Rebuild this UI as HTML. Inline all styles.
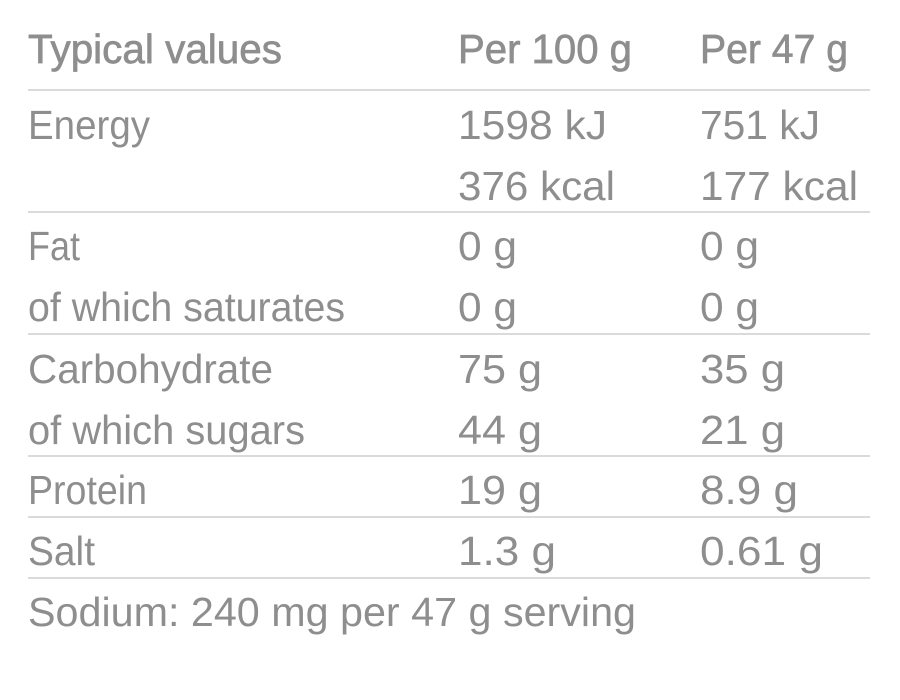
<!DOCTYPE html>
<html><head><meta charset="utf-8"><style>
html,body{margin:0;padding:0;background:#fff;width:900px;height:700px;overflow:hidden}
text{font-family:"Liberation Sans",sans-serif;font-size:41px;fill:#8e8e8e}
.h{stroke:#8e8e8e;stroke-width:0.7}
</style></head><body>
<svg width="900" height="700" xmlns="http://www.w3.org/2000/svg">
<g fill="#dadada">
<rect x="28" y="89" width="842" height="2"/>
<rect x="28" y="211" width="842" height="2"/>
<rect x="28" y="333" width="842" height="2"/>
<rect x="28" y="455" width="842" height="2"/>
<rect x="28" y="516" width="842" height="2"/>
<rect x="28" y="577" width="842" height="2"/>
</g>
<text class="h" x="28" y="63" textLength="254" lengthAdjust="spacingAndGlyphs">Typical values</text>
<text class="h" x="458" y="63" textLength="174" lengthAdjust="spacingAndGlyphs">Per 100 g</text>
<text class="h" x="700" y="63" textLength="148" lengthAdjust="spacingAndGlyphs">Per 47 g</text>

<text x="28" y="139" textLength="122" lengthAdjust="spacingAndGlyphs">Energy</text>
<text x="458" y="139" textLength="149" lengthAdjust="spacingAndGlyphs">1598 kJ</text>
<text x="700" y="139" textLength="120" lengthAdjust="spacingAndGlyphs">751 kJ</text>
<text x="458" y="200" textLength="157" lengthAdjust="spacingAndGlyphs">376 kcal</text>
<text x="700" y="200" textLength="158" lengthAdjust="spacingAndGlyphs">177 kcal</text>

<text x="28" y="260" textLength="52" lengthAdjust="spacingAndGlyphs">Fat</text>
<text x="458" y="260" textLength="59" lengthAdjust="spacingAndGlyphs">0 g</text>
<text x="700" y="260" textLength="59" lengthAdjust="spacingAndGlyphs">0 g</text>
<text x="28" y="321" textLength="317" lengthAdjust="spacingAndGlyphs">of which saturates</text>
<text x="458" y="321" textLength="59" lengthAdjust="spacingAndGlyphs">0 g</text>
<text x="700" y="321" textLength="59" lengthAdjust="spacingAndGlyphs">0 g</text>

<text x="28" y="383" textLength="245" lengthAdjust="spacingAndGlyphs">Carbohydrate</text>
<text x="458" y="383" textLength="84" lengthAdjust="spacingAndGlyphs">75 g</text>
<text x="700" y="383" textLength="85" lengthAdjust="spacingAndGlyphs">35 g</text>
<text x="28" y="444" textLength="277" lengthAdjust="spacingAndGlyphs">of which sugars</text>
<text x="458" y="444" textLength="84" lengthAdjust="spacingAndGlyphs">44 g</text>
<text x="700" y="444" textLength="85" lengthAdjust="spacingAndGlyphs">21 g</text>

<text x="28" y="504" textLength="119" lengthAdjust="spacingAndGlyphs">Protein</text>
<text x="458" y="504" textLength="84" lengthAdjust="spacingAndGlyphs">19 g</text>
<text x="700" y="504" textLength="98" lengthAdjust="spacingAndGlyphs">8.9 g</text>

<text x="28" y="565" textLength="67" lengthAdjust="spacingAndGlyphs">Salt</text>
<text x="458" y="565" textLength="98" lengthAdjust="spacingAndGlyphs">1.3 g</text>
<text x="700" y="565" textLength="123" lengthAdjust="spacingAndGlyphs">0.61 g</text>

<text x="28" y="626" textLength="608" lengthAdjust="spacingAndGlyphs">Sodium: 240 mg per 47 g serving</text>
</svg>
</body></html>
